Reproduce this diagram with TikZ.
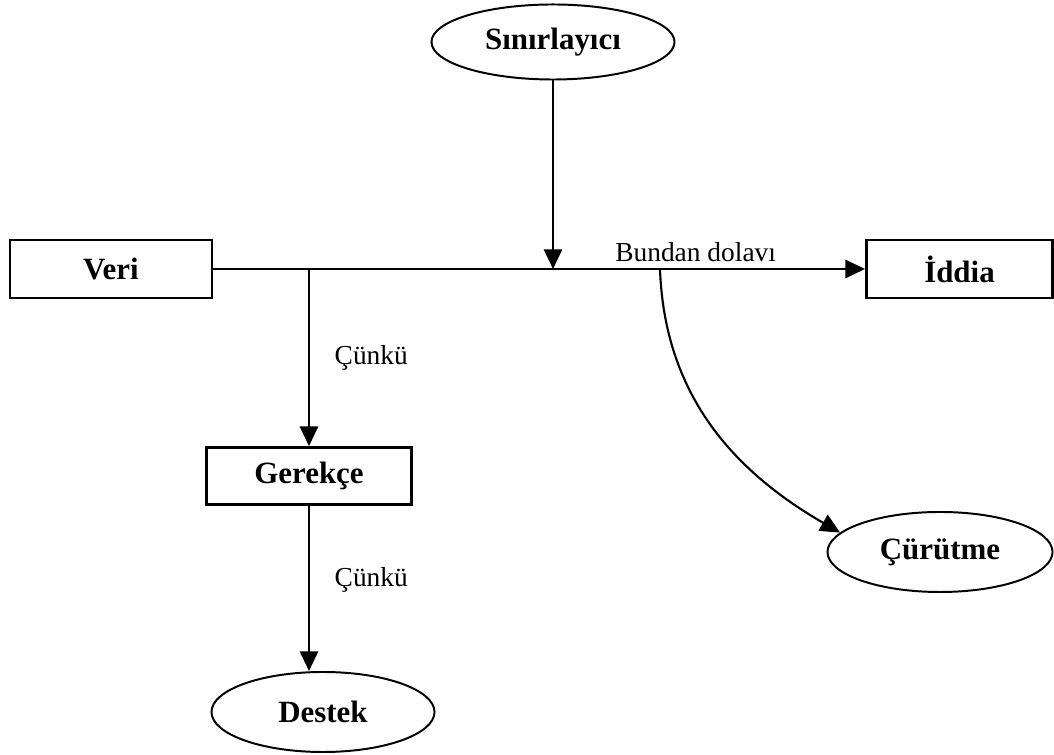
\documentclass[tikz,border=0pt]{standalone}
\usepackage{fontspec}
\setmainfont{Liberation Serif}
\usetikzlibrary{shapes.geometric, arrows.meta, positioning, calc}

\begin{document}
\begin{tikzpicture}[x=0.025cm, y=0.025cm, font=\fontsize{19.5}{23}\selectfont,
    box/.style={draw, line width=2pt, minimum width=5.05cm, minimum height=1.45cm, font=\fontsize{22}{26}\selectfont\bfseries},
    oval/.style={draw, ellipse, line width=1.4pt, minimum width=5.6cm, minimum height=2cm, inner sep=0pt, font=\fontsize{22}{26}\selectfont\bfseries},
    arr/.style={line width=1.5pt, -{Triangle[length=14pt, width=13pt]}}]
  \useasboundingbox (0,0) rectangle (1054,755);
  % Veri ve Iddia
  \node[box] (veri) at (111,486) {Veri};
  \node[box, minimum width=4.65cm] (iddia) at (959.5,486) {İddia};
  % Sinirlayici
  \node[oval, minimum width=6.075cm, minimum height=1.875cm] (limiter) at (553,713) {Sınırlayıcı};
  % Gerekce ve Destek
  \node[box, minimum width=5.125cm, minimum height=1.425cm] (gerekce) at (309,279) {Gerekçe};
  \node[oval, minimum width=5.575cm] (destek) at (323,43) {Destek};
  % Curutme
  \node[oval, minimum width=5.625cm] (curutme) at (940,203) {Çürütme};
  % ayrilma noktalari
  \coordinate (jwarrant) at (309,486);
  \coordinate (jrebut) at (660,486);

  \draw[arr] (veri) -- node[pos=0.74, above, yshift=1pt]{Bundan dolavı} (iddia);
  \draw[arr] (limiter) -- (limiter |- veri.east);
  \draw[arr] (jwarrant) -- node[midway, right=0.5cm]{Çünkü} (gerekce);
  \draw[arr] (gerekce) -- node[pos=0.45, right=0.5cm]{Çünkü} (gerekce |- destek.north);
  \draw[arr] (jrebut) to[out=-88, in=150] (curutme.169);
\end{tikzpicture}
\end{document}
